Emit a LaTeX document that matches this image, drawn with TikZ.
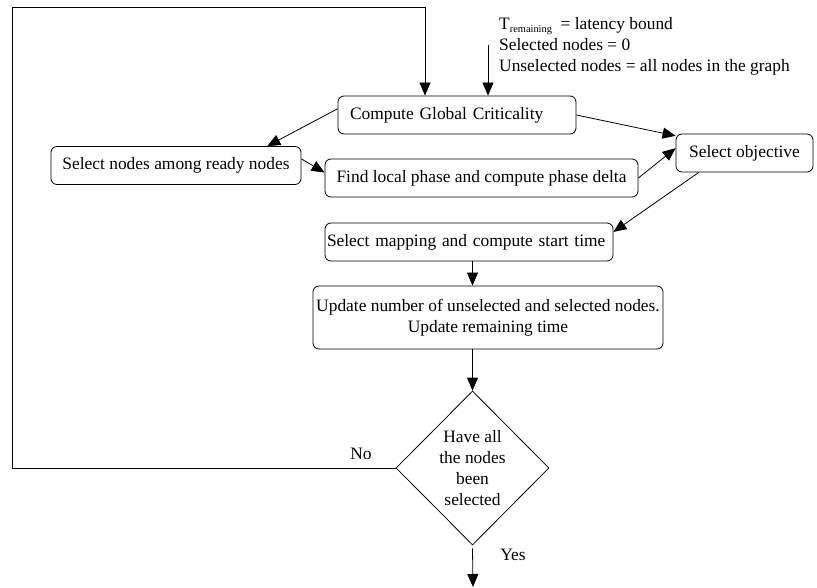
\documentclass[tikz,border=0pt]{standalone}
\usepackage{fontspec}
\setmainfont{Liberation Serif}
\usetikzlibrary{arrows.meta,shapes.geometric}
\newcommand{\flowfont}{\fontsize{17.4}{21}\selectfont}
\tikzset{
  procbox/.style={draw, rounded corners=6pt, line width=0.8pt, minimum height=38pt, inner sep=2pt, font=\flowfont},
  decbox/.style={draw, diamond, aspect=1, inner sep=0pt, minimum width=153pt, minimum height=154pt, line width=0.8pt, align=center, font=\flowfont},
  flow/.style={line width=0.8pt, -{Triangle[length=13pt,width=11pt]}},
  lbl/.style={inner sep=0pt, font=\flowfont}
}
\begin{document}
\begin{tikzpicture}[x=1pt,y=-1pt]
    \useasboundingbox (0,0) rectangle (817,588);

    % boxes
    \node[procbox, text width=214pt, inner xsep=12pt, align=left] (gcrit) at (457,115) {Compute Global Criticality};
    \node[procbox, minimum width=250pt] (ready) at (176,165.5) {Select nodes among ready nodes};
    \node[procbox, minimum width=313pt] (phase) at (481.5,178) {Find local phase and compute phase delta};
    \node[procbox, minimum width=137pt] (obj) at (744.5,153) {Select objective};
    \node[procbox, text width=284pt, inner xsep=2pt, align=left] (mapping) at (469,242) {Select mapping and compute start time};
    \node[procbox, minimum width=350pt, minimum height=63pt, align=center] (update) at (488,317.5) {Update number of unselected and selected nodes.\\Update remaining time};
    \node[decbox] (dec) at (472.5,468) {Have all\\the nodes\\been\\selected};

    % initial values
    \node[lbl, anchor=west, align=left] (initnote) at (499,46) {T\raisebox{-3pt}{\fontsize{10.4}{12}\selectfont remaining}\ \ = latency bound\\Selected nodes = 0\\Unselected nodes = all nodes in the graph};
    \coordinate (init) at (488,45);
    \coordinate (loopL) at (12,7);
    \coordinate (loopR) at (425,7);
    \coordinate (done) at (473,587);

    % connectors
    \draw[flow] (init) -- (init |- gcrit.north);
    \draw[flow] (dec.west) -| (loopL) -- (loopR) -- (loopR |- gcrit.north);
    \draw[flow] (gcrit.177) -- (ready.12);
    \draw[flow] (gcrit.east) -- (obj.166);
    \draw[flow] (ready.3) -- (phase.178);
    \draw[flow] (phase.east) -- (obj.176);
    \draw[flow] (obj.203) -- (mapping.4);
    \draw[flow] (mapping.south -| dec.north) -- (update.north -| dec.north);
    \draw[flow] (update.south -| dec.north) -- (dec.north);
    \draw[flow] ([yshift=-3pt]dec.south) -- (done);

    \node[lbl] (nolbl) at (361,454) {No};
    \node[lbl] (yeslbl) at (513,555) {Yes};
\end{tikzpicture}
\end{document}
